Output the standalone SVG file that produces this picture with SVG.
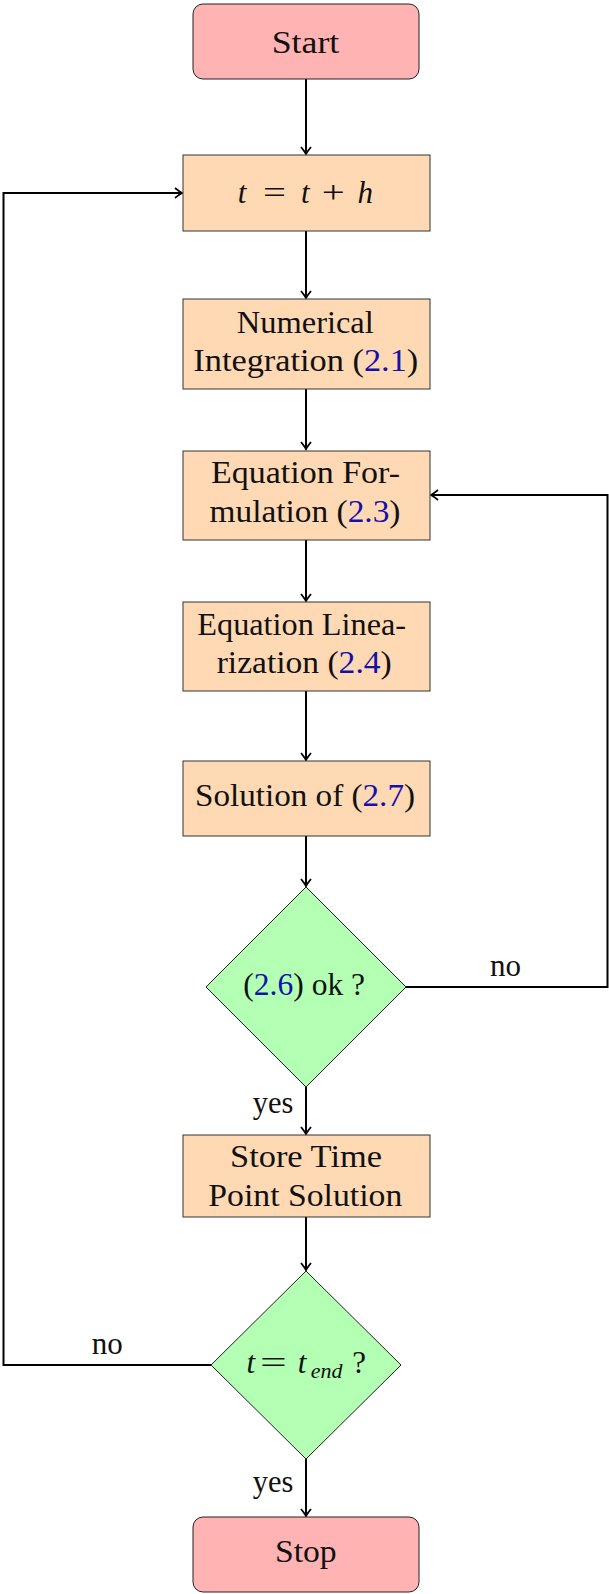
<svg xmlns="http://www.w3.org/2000/svg" width="609" height="1594" viewBox="0 0 609 1594">
<style>
.term{fill:#ffb3b3;stroke:#222;stroke-width:1}
.proc{fill:#ffd9b3;stroke:#333;stroke-width:1}
.dec{fill:#b3ffb3;stroke:#222;stroke-width:1}
text{font-family:'Liberation Serif','DejaVu Serif',serif;font-size:31px;fill:#111}
.c{text-anchor:middle}
.m{font-style:italic}
.ref{fill:#1212a8}
.conn{fill:none;stroke:#000;stroke-width:2}
</style>
<defs>
<marker id="arr" viewBox="-10 -6 12 12" refX="0" refY="0" markerWidth="12" markerHeight="12" markerUnits="userSpaceOnUse" orient="auto">
<path d="M-7,-5 Q-2,-1 0,0 Q-2,1 -7,5" fill="none" stroke="#000" stroke-width="1.8"/>
</marker>
</defs>
<g id="connectors">
<path class="conn" d="M306,79 V154" marker-end="url(#arr)"/>
<path class="conn" d="M306,231 V298" marker-end="url(#arr)"/>
<path class="conn" d="M306,389 V449" marker-end="url(#arr)"/>
<path class="conn" d="M306,540 V601" marker-end="url(#arr)"/>
<path class="conn" d="M306,691 V760" marker-end="url(#arr)"/>
<path class="conn" d="M306,836 V886" marker-end="url(#arr)"/>
<path class="conn" d="M306,1087 V1134" marker-end="url(#arr)"/>
<path class="conn" d="M306,1217 V1270" marker-end="url(#arr)"/>
<path class="conn" d="M306,1459 V1516" marker-end="url(#arr)"/>
<path class="conn" d="M406,987 H607.5 V495 H431" marker-end="url(#arr)"/>
<path class="conn" d="M211,1365 H3.5 V193 H182" marker-end="url(#arr)"/>
<text x="252.7" y="1113" textLength="40.6" lengthAdjust="spacingAndGlyphs">yes</text>
<text x="252.7" y="1492" textLength="40.6" lengthAdjust="spacingAndGlyphs">yes</text>
<text x="490" y="976" textLength="31" lengthAdjust="spacingAndGlyphs">no</text>
<text x="91.7" y="1354" textLength="31" lengthAdjust="spacingAndGlyphs">no</text>
</g>
<g id="start">
<rect class="term" x="193" y="4" width="226" height="75" rx="10"/>
<text class="c" x="305.5" y="53" textLength="67.7" lengthAdjust="spacingAndGlyphs">Start</text>
</g>
<g id="step">
<rect class="proc" x="183" y="155" width="247" height="76"/>
<text class="c m" x="242" y="203">t</text>
<text x="263" y="203" textLength="23" lengthAdjust="spacingAndGlyphs">=</text>
<text class="c m" x="305.3" y="203">t</text>
<text x="321.7" y="203" textLength="23" lengthAdjust="spacingAndGlyphs">+</text>
<text class="c m" x="365.3" y="203">h</text>
</g>
<g id="integration">
<rect class="proc" x="183" y="299" width="247" height="90"/>
<text class="c" x="305.3" y="333" textLength="137" lengthAdjust="spacingAndGlyphs">Numerical</text>
<text class="c" x="305.8" y="371" textLength="225" lengthAdjust="spacingAndGlyphs">Integration (<tspan class="ref">2.1</tspan>)</text>
</g>
<g id="formulation">
<rect class="proc" x="183" y="451" width="247" height="89"/>
<text class="c" x="305.5" y="483" textLength="189" lengthAdjust="spacingAndGlyphs">Equation For-</text>
<text class="c" x="305" y="522" textLength="191" lengthAdjust="spacingAndGlyphs">mulation (<tspan class="ref">2.3</tspan>)</text>
</g>
<g id="linearization">
<rect class="proc" x="183" y="602" width="247" height="89"/>
<text class="c" x="301.7" y="635" textLength="208.7" lengthAdjust="spacingAndGlyphs">Equation Linea-</text>
<text class="c" x="304.2" y="673" textLength="175" lengthAdjust="spacingAndGlyphs">rization (<tspan class="ref">2.4</tspan>)</text>
</g>
<g id="solution">
<rect class="proc" x="183" y="761" width="247" height="75"/>
<text class="c" x="305" y="806" textLength="220" lengthAdjust="spacingAndGlyphs">Solution of (<tspan class="ref">2.7</tspan>)</text>
</g>
<g id="check">
<polygon class="dec" points="306,887 406,987 306,1087 206,987"/>
<text class="c" x="304.2" y="995" textLength="121.7" lengthAdjust="spacingAndGlyphs">(<tspan class="ref">2.6</tspan>) ok ?</text>
</g>
<g id="store">
<rect class="proc" x="183" y="1135" width="247" height="82"/>
<text class="c" x="306" y="1167" textLength="152" lengthAdjust="spacingAndGlyphs">Store Time</text>
<text class="c" x="305.3" y="1206" textLength="194" lengthAdjust="spacingAndGlyphs">Point Solution</text>
</g>
<g id="endcheck">
<polygon class="dec" points="306,1271 401,1365 306,1459 211,1365"/>
<text class="c m" x="250.8" y="1373">t</text>
<text x="260" y="1373" textLength="26.7" lengthAdjust="spacingAndGlyphs">=</text>
<text class="c m" x="302" y="1373">t</text>
<text class="c m" x="326.7" y="1378" style="font-size:22px">end</text>
<text class="c" x="359.2" y="1373">?</text>
</g>
<g id="stop">
<rect class="term" x="193" y="1517" width="226" height="75" rx="10"/>
<text class="c" x="305.8" y="1562" textLength="61.7" lengthAdjust="spacingAndGlyphs">Stop</text>
</g>
</svg>
